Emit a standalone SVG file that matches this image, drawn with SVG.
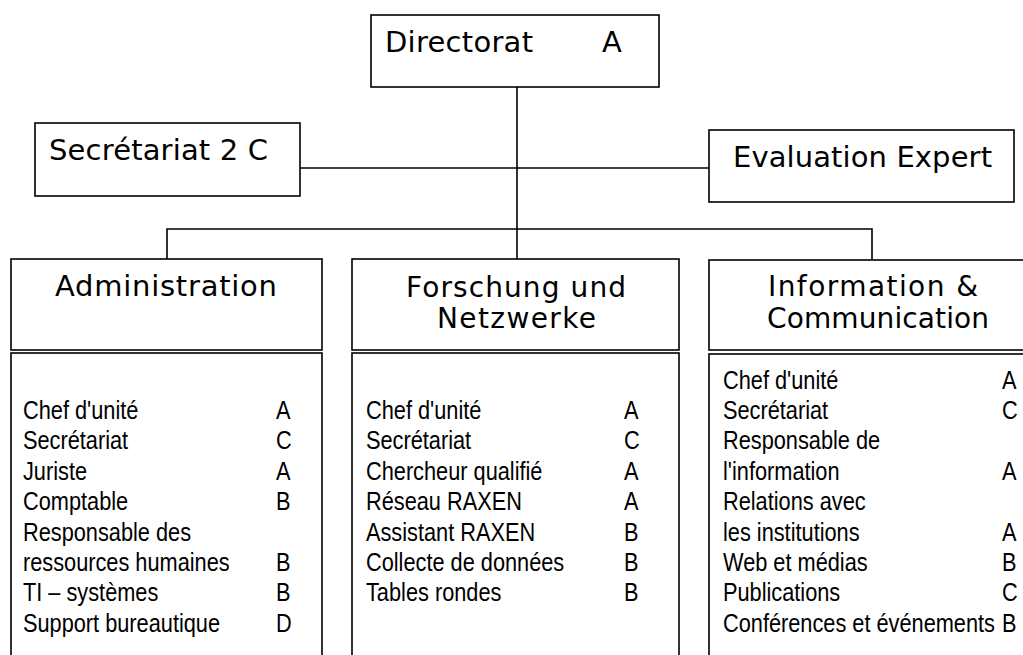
<svg xmlns="http://www.w3.org/2000/svg" width="1023" height="655" viewBox="0 0 1023 655">
<style>
.box{fill:#fff;stroke:#000;stroke-width:1.6}
.ln{fill:none;stroke:#000;stroke-width:1.6}
.h{font-family:"DejaVu Sans","Verdana",sans-serif;font-size:29px;fill:#000}
.h2{font-size:28px}
.b{font-family:"Liberation Sans",Arial,sans-serif;font-size:25px;fill:#000}
</style>
<rect width="1023" height="655" fill="#fff"/>
<g id="connectors">
<line class="ln" x1="517" y1="87" x2="517" y2="259"/>
<line class="ln" x1="300" y1="168" x2="709" y2="168"/>
<polyline class="ln" points="167,259 167,229 872,229 872,259"/>
</g>
<g id="directorat">
<rect class="box" x="371" y="15" width="288" height="72"/>
<text class="h" x="385" y="52" textLength="148">Directorat</text>
<text class="h" x="602" y="52">A</text>
</g>
<g id="secretariat">
<rect class="box" x="35" y="123" width="265" height="73"/>
<text class="h" x="49" y="160" textLength="219">Secrétariat 2 C</text>
</g>
<g id="evaluation">
<rect class="box" x="709" y="130" width="305" height="72"/>
<text class="h" x="733" y="167" textLength="259">Evaluation Expert</text>
</g>
<g id="administration">
<rect class="box" x="11" y="259" width="311" height="91"/>
<rect class="box" x="11" y="353" width="311" height="360"/>
<text class="h" x="55" y="296" textLength="222">Administration</text>
<g class="b" transform="translate(23,0) scale(0.87,1)">
<text x="0" y="419">Chef d'unité</text><text x="290.8" y="419">A</text>
<text x="0" y="449.4">Secrétariat</text><text x="290.8" y="449.4">C</text>
<text x="0" y="479.8">Juriste</text><text x="290.8" y="479.8">A</text>
<text x="0" y="510.2">Comptable</text><text x="290.8" y="510.2">B</text>
<text x="0" y="540.6">Responsable des</text>
<text x="0" y="571">ressources humaines</text><text x="290.8" y="571">B</text>
<text x="0" y="601.4">TI – systèmes</text><text x="290.8" y="601.4">B</text>
<text x="0" y="631.8">Support bureautique</text><text x="290.8" y="631.8">D</text>
</g>
</g>
<g id="forschung">
<rect class="box" x="352" y="259" width="327" height="91"/>
<rect class="box" x="352" y="353" width="327" height="360"/>
<text class="h h2" x="406" y="297" textLength="220">Forschung und</text>
<text class="h h2" x="437" y="328" textLength="159">Netzwerke</text>
<g class="b" transform="translate(366,0) scale(0.87,1)">
<text x="0" y="419">Chef d'unité</text><text x="296.6" y="419">A</text>
<text x="0" y="449.4">Secrétariat</text><text x="296.6" y="449.4">C</text>
<text x="0" y="479.8">Chercheur qualifié</text><text x="296.6" y="479.8">A</text>
<text x="0" y="510.2">Réseau RAXEN</text><text x="296.6" y="510.2">A</text>
<text x="0" y="540.6">Assistant RAXEN</text><text x="296.6" y="540.6">B</text>
<text x="0" y="571">Collecte de données</text><text x="296.6" y="571">B</text>
<text x="0" y="601.4">Tables rondes</text><text x="296.6" y="601.4">B</text>
</g>
</g>
<g id="information">
<rect class="box" x="709" y="260" width="332" height="90"/>
<rect class="box" x="709" y="354" width="332" height="360"/>
<text class="h h2" x="768" y="296" textLength="210">Information &amp;</text>
<text class="h h2" x="767" y="328" textLength="222">Communication</text>
<g class="b" transform="translate(723,0) scale(0.87,1)">
<text x="0" y="388.6">Chef d'unité</text><text x="320.7" y="388.6">A</text>
<text x="0" y="419">Secrétariat</text><text x="320.7" y="419">C</text>
<text x="0" y="449.4">Responsable de</text>
<text x="0" y="479.8">l'information</text><text x="320.7" y="479.8">A</text>
<text x="0" y="510.2">Relations avec</text>
<text x="0" y="540.6">les institutions</text><text x="320.7" y="540.6">A</text>
<text x="0" y="571">Web et médias</text><text x="320.7" y="571">B</text>
<text x="0" y="601.4">Publications</text><text x="320.7" y="601.4">C</text>
<text x="0" y="631.8">Conférences et événements</text><text x="320.7" y="631.8">B</text>
</g>
</g>
</svg>
